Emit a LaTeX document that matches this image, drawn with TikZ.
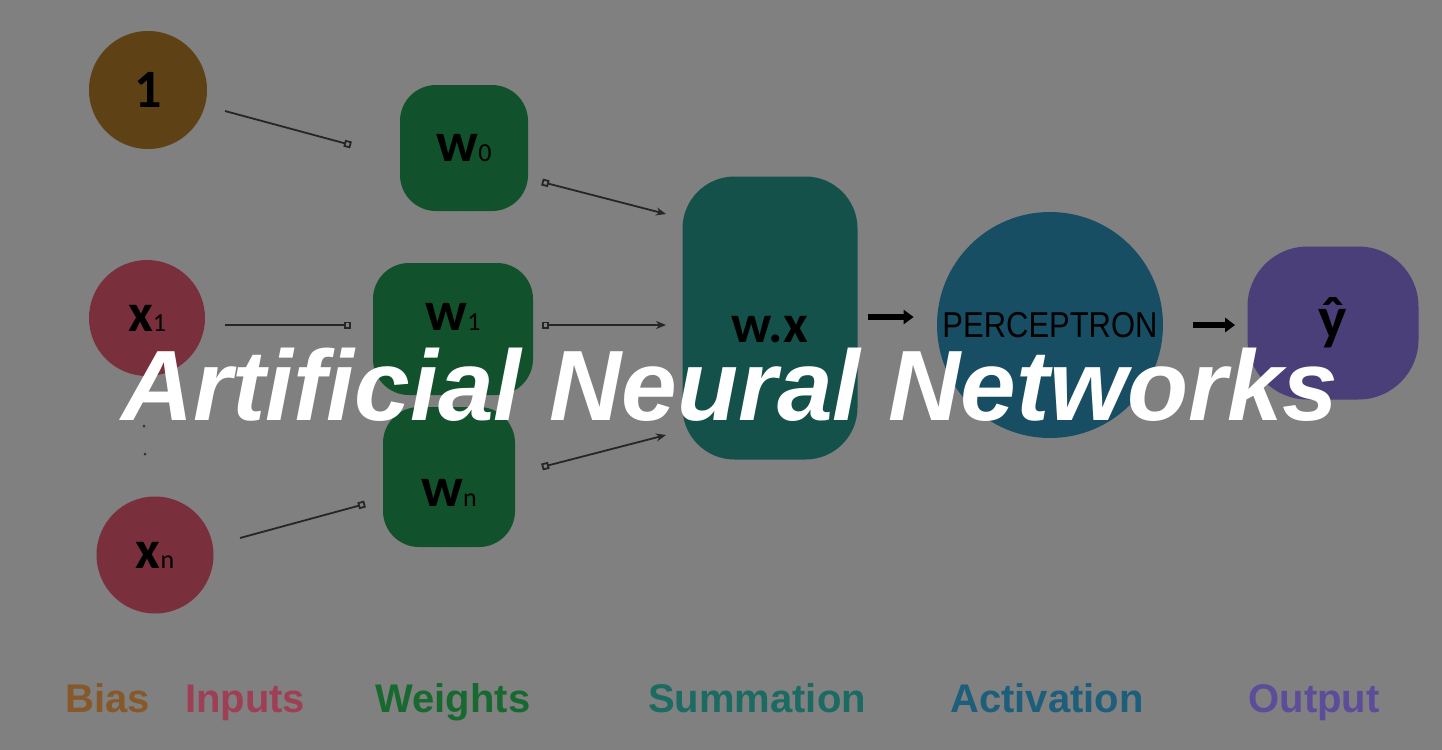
\documentclass[tikz,border=0pt]{standalone}
\usepackage{fontspec}
\setmainfont{Carlito}
\newfontfamily\headfont{Liberation Sans}
\usetikzlibrary{arrows.meta}
\definecolor{bggray}{HTML}{808080}
\definecolor{biasfill}{HTML}{5E4114}
\definecolor{inpfill}{HTML}{7A303C}
\definecolor{wfill}{HTML}{11522C}
\definecolor{sumfill}{HTML}{14514B}
\definecolor{actfill}{HTML}{174E63}
\definecolor{outfill}{HTML}{4A3F78}
\definecolor{biastxt}{HTML}{86592A}
\definecolor{inptxt}{HTML}{9E3F56}
\definecolor{wtxt}{HTML}{17692F}
\definecolor{sumtxt}{HTML}{1B6B63}
\definecolor{acttxt}{HTML}{1D5E7A}
\definecolor{outtxt}{HTML}{5C4C9A}
\newcommand\nodesub[2]{{\bfseries #1}{\fontsize{13pt}{13pt}\selectfont\mdseries #2}}

\begin{document}
\begin{tikzpicture}[x=0.5pt, y=-0.5pt,
  unit/.style={circle, inner sep=0pt, font=\fontsize{27pt}{27pt}\selectfont},
  blob/.style={rounded corners=18pt, inner sep=0pt, fill=wfill,
               font=\fontsize{28pt}{28pt}\selectfont},
  inwire/.style={line width=0.9pt, draw=black!85, -{Square[open,length=3.5pt,width=3.5pt]}},
  outwire/.style={line width=0.9pt, draw=black!85,
                  {Square[open,length=3.5pt,width=3.5pt]}-{Stealth[length=5pt,width=4pt]}},
  bigarr/.style={line width=3pt, -{Triangle[length=5pt,width=7pt]}},
  stage/.style={anchor=base, font=\headfont\bfseries\fontsize{20pt}{20pt}\selectfont},
]
% ---- background ----
\fill[bggray] (0,0) rectangle (1442,750);
\useasboundingbox (0,0) rectangle (1442,750);

% ---- bias and inputs ----
\node[unit, fill=biasfill, minimum size=59pt] (bias) at (148,90) {\bfseries 1};
\node[unit, fill=inpfill, minimum size=58pt] (x1) at (147,318) {\nodesub{x}{1}};
\node[unit, fill=inpfill, minimum size=58.5pt] (xn) at (155,555) {\nodesub{x}{n}};
\fill[black!80] (144,426) circle (1.5) (145,454) circle (1.5);

% ---- weights ----
\node[blob, minimum width=64pt, minimum height=63pt] (w0) at (464,148) {\nodesub{w}{0}};
\node[blob, minimum width=80pt, minimum height=66pt] (w1) at (453,329)
  {\raisebox{12pt}{\nodesub{w}{1}}};
\node[blob, minimum width=66pt, minimum height=70pt,
      label={[yshift=-8pt, font=\fontsize{28pt}{28pt}\selectfont]center:\nodesub{w}{n}}]
  (wn) at (449,477) {};

% ---- summation, activation, output ----
\node[rounded corners=26pt, fill=sumfill, minimum width=87.5pt, minimum height=141.5pt,
      label={[yshift=-6pt, font=\fontsize{27pt}{27pt}\selectfont\bfseries]center:w.x}]
  (sum) at (770,318) {};
\node[circle, fill=actfill, minimum size=113pt, inner sep=0pt,
      font=\headfont\fontsize{18pt}{18pt}\selectfont] (act) at (1050,325)
  {\scalebox{0.86}[1]{PERCEPTRON}};
\node[rounded corners=30pt, fill=outfill, minimum width=85.5pt, minimum height=76.5pt,
      font=\bfseries\fontsize{30pt}{30pt}\selectfont] (out) at (1333,323) {ŷ};

% ---- connectors ----
\coordinate (c0a) at (225,111); \coordinate (c0b) at (351,145);
\coordinate (c1a) at (225,325); \coordinate (c1b) at (351,325);
\coordinate (cna) at (240,538); \coordinate (cnb) at (365,504);
\coordinate (d0a) at (542,182); \coordinate (d0b) at (666,214);
\coordinate (d1a) at (542,325); \coordinate (d1b) at (666,325);
\coordinate (dna) at (542,467); \coordinate (dnb) at (666,435);
\draw[inwire] (c0a) -- (c0b);
\draw[inwire] (c1a) -- (c1b);
\draw[inwire] (cna) -- (cnb);
\draw[outwire] (d0a) -- (d0b);
\draw[outwire] (d1a) -- (d1b);
\draw[outwire] (dna) -- (dnb);

\draw[bigarr, shorten <=5pt, shorten >=11.5pt] ([yshift=0.5pt]sum.east) -- ([yshift=0.5pt]sum.east -| act.west);
\draw[bigarr, shorten <=15pt, shorten >=6pt] (act.east) -- (act.east -| out.west);

% ---- stage names ----
\node[stage, text=biastxt] (lbias) at (108,712) {Bias};
\node[stage, text=inptxt] (linp) at (245,712) {Inputs};
\node[stage, text=wtxt] (lw) at (453,712) {Weights};
\node[stage, text=sumtxt] (lsum) at (757,712) {Summation};
\node[stage, text=acttxt] (lact) at (1047,712) {Activation};
\node[stage, text=outtxt] (lout) at (1314,712) {Output};

% ---- title ----
\node[anchor=base, text=white, font=\headfont\bfseries\itshape\fontsize{50pt}{50pt}\selectfont]
  (title) at (730,420) {Artificial Neural Networks};
\end{tikzpicture}
\end{document}
